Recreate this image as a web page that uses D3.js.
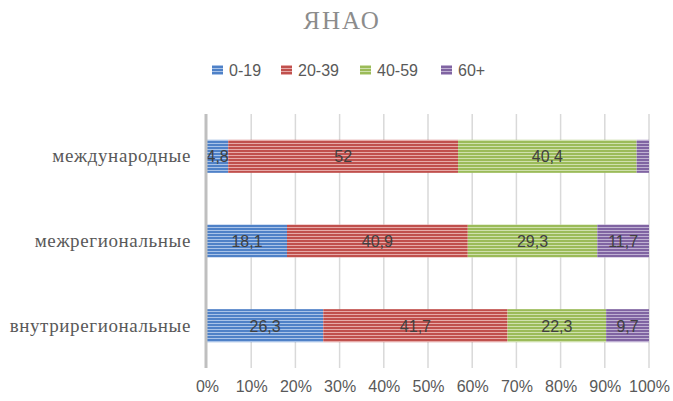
<!DOCTYPE html>
<html>
<head>
<meta charset="utf-8">
<script src="https://cdn.jsdelivr.net/npm/d3@7"></script>
<style>
  body { margin: 0; background: #fff; }
  svg { display: block; }
</style>
</head>
<body>
<div id="chart"></div>
<script>
var categories = ["международные", "межрегиональные", "внутрирегиональные"];
var groups = ["0-19", "20-39", "40-59", "60+"];
var v0_19 = [4.8, 18.1, 26.3];
var v20_39 = [52, 40.9, 41.7];
var v40_59 = [40.4, 29.3, 22.3];
var v60 = [2.8, 11.7, 9.7];
var showLabel60 = [false, true, true];
var xTicks = [0, 10, 20, 30, 40, 50, 60, 70, 80, 90, 100];

var colors = ["#4f81c7", "#c0504d", "#9bbb59", "#8064a2"];
var light = ["#a9c3e8", "#e6aaa8", "#cfe0ad", "#bfb0d3"];

var width = 673, height = 401;
var margin = { top: 114, right: 24, bottom: 33, left: 207 };
var innerW = 649 - margin.left;
var innerH = 368 - margin.top;

var svg = d3.select("#chart").append("svg")
  .attr("width", width)
  .attr("height", height);

// stripe patterns
var defs = svg.append("defs");
colors.forEach(function (c, i) {
  var p = defs.append("pattern")
    .attr("id", "stripe" + i)
    .attr("patternUnits", "userSpaceOnUse")
    .attr("width", 6)
    .attr("height", 3);
  p.append("rect").attr("width", 6).attr("height", 3).attr("fill", c);
  p.append("rect").attr("y", 2).attr("width", 6).attr("height", 1).attr("fill", light[i]);
});

svg.append("text")
  .attr("x", 342)
  .attr("y", 29)
  .attr("text-anchor", "middle")
  .style("font-family", "'Liberation Serif', 'Times New Roman', serif")
  .style("font-size", "25px")
  .style("letter-spacing", "2px")
  .style("fill", "#8c8c8c")
  .text("ЯНАО");

// legend
var legendX = [212, 281, 360, 441];
var legend = svg.append("g");
groups.forEach(function (g, i) {
  legend.append("rect")
    .attr("x", legendX[i])
    .attr("y", 65)
    .attr("width", 11)
    .attr("height", 10)
    .attr("fill", "url(#stripe" + i + ")");
  legend.append("text")
    .attr("x", legendX[i] + 17)
    .attr("y", 76)
    .style("font-family", "'Liberation Sans', Arial, sans-serif")
    .style("font-size", "16px")
    .style("fill", "#595959")
    .text(g);
});

var g = svg.append("g")
  .attr("transform", "translate(" + margin.left + "," + margin.top + ")");

var x = d3.scaleLinear().domain([0, 100]).range([0, innerW]);
var y = d3.scaleBand().domain(categories).range([0, innerH])
  .paddingInner(0.61).paddingOuter(0.305);

// gridlines
g.selectAll(".grid")
  .data(xTicks.slice(1))
  .enter().append("line")
  .attr("x1", function (d) { return x(d); })
  .attr("x2", function (d) { return x(d); })
  .attr("y1", 0)
  .attr("y2", innerH)
  .attr("stroke", "#d9d9d9")
  .attr("stroke-width", 1.5);

var series = [v0_19, v20_39, v40_59, v60];
var rows = categories.map(function (c, i) {
  var row = { cat: c };
  groups.forEach(function (k, j) { row[k] = series[j][i]; });
  return row;
});
var stack = d3.stack().keys(groups)(rows);

stack.forEach(function (layer, i) {
  var lg = g.append("g");
  lg.selectAll("rect")
    .data(layer)
    .enter().append("rect")
    .attr("x", function (d) { return x(d[0]); })
    .attr("y", function (d) { return y(d.data.cat); })
    .attr("width", function (d) { return x(d[1]) - x(d[0]); })
    .attr("height", y.bandwidth())
    .attr("fill", "url(#stripe" + i + ")");
  lg.selectAll("text")
    .data(layer.filter(function (d, j) { return i < 3 || showLabel60[j]; }))
    .enter().append("text")
    .attr("x", function (d) { return (x(d[0]) + x(d[1])) / 2; })
    .attr("y", function (d) { return y(d.data.cat) + y.bandwidth() / 2 + 6; })
    .attr("text-anchor", "middle")
    .style("font-family", "'Liberation Sans', Arial, sans-serif")
    .style("font-size", "16px")
    .style("fill", "#404040")
    .text(function (d) { return String(d.data[layer.key]).replace(".", ","); });
});

// left axis line
g.append("line")
  .attr("x1", -1).attr("x2", -1)
  .attr("y1", 0).attr("y2", innerH)
  .attr("stroke", "#bfbfbf")
  .attr("stroke-width", 3);

// category labels
g.selectAll(".cat")
  .data(categories)
  .enter().append("text")
  .attr("x", -16)
  .attr("y", function (d) { return y(d) + y.bandwidth() / 2 + 6; })
  .attr("text-anchor", "end")
  .style("font-family", "'Liberation Serif', 'Times New Roman', serif")
  .style("font-size", "19px")
  .style("letter-spacing", "0.6px")
  .style("fill", "#595959")
  .text(function (d) { return d; });

// x tick labels
var xAxis = d3.axisBottom(x).tickValues(xTicks)
  .tickFormat(function (d) { return d + "%"; })
  .tickSize(0).tickPadding(13);
var ax = g.append("g")
  .attr("transform", "translate(0," + innerH + ")")
  .call(xAxis);
ax.select(".domain").remove();
ax.selectAll("text")
  .style("font-family", "'Liberation Sans', Arial, sans-serif")
  .style("font-size", "16px")
  .style("fill", "#595959");
</script>
</body>
</html>
